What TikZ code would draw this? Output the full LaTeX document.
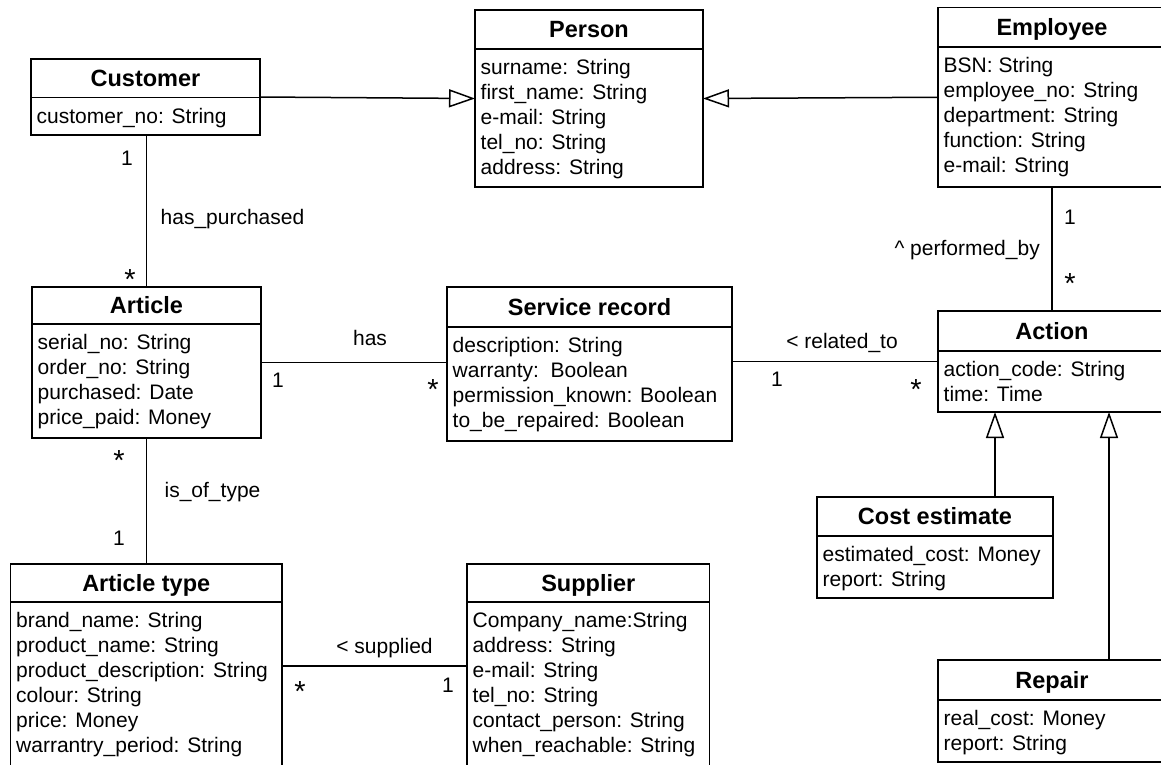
\documentclass[tikz,border=0pt]{standalone}
\usepackage{fontspec}
\setmainfont{Liberation Sans}
\usetikzlibrary{arrows.meta,calc}
\tikzset{
  umlline/.style={line width=1.5pt, draw=black},
  umlrect/.style={draw=black, line width=1.5pt, fill=white, inner sep=0pt, outer sep=0pt, rectangle},
  umltitle/.style={inner sep=0pt, font=\fontsize{23.5pt}{28pt}\selectfont\bfseries},
  umlattr/.style={inner sep=0pt, align=left, font=\fontsize{21pt}{25pt}\selectfont},
  lbl/.style={inner sep=0pt, font=\fontsize{21pt}{25pt}\selectfont},
  star/.style={inner sep=0pt, font=\fontsize{29pt}{30pt}\selectfont, anchor=base},
  assoc/.style={line width=1.5pt},
  gen/.style={line width=1.5pt, -{Triangle[open, length=26pt, width=18pt]}},
}
\newcommand\umlclass[8]{%
  \node[umlrect, minimum width=#4pt, minimum height=#5pt, anchor=north west] (#1) at (#2,#3) {};
  \coordinate (#1hl) at ($(#1.north west)+(0,#6)$);
  \coordinate (#1hr) at ($(#1.north east)+(0,#6)$);
  \draw[umlline] (#1hl) -- (#1hr);
  \node[umltitle, anchor=base] (#1t) at ($(#1.north)+(0,{#6/2+8.4})$) {#7};
  \node[umlattr, anchor=north west] (#1a) at ($(#1hl)+(5.5,9.5)$) {\rule{0pt}{16pt}#8};
}
\begin{document}
\begin{tikzpicture}[x=1pt, y=-1pt]
\useasboundingbox (0,0) rectangle (1161,764);
\clip (0,0) rectangle (1161,764);
\fill[white] (0,0) rectangle (1161,764);

\umlclass{cust}{31}{59}{229}{76}{38.5}{Customer}{customer\_no: String}
\umlclass{person}{475}{10}{228}{177}{39}{Person}{surname: String\\first\_name: String\\e-mail: String\\tel\_no: String\\address: String}
\umlclass{emp}{938}{7.5}{228}{179.5}{39.5}{Employee}{BSN: String\\employee\_no: String\\department: String\\function: String\\e-mail: String}
\umlclass{article}{32}{287}{229}{151}{37}{Article}{serial\_no: String\\order\_no: String\\purchased: Date\\price\_paid: Money}
\umlclass{service}{447}{287}{285}{154}{40}{Service record}{description: String\\warranty:\ \ Boolean\\permission\_known: Boolean\\to\_be\_repaired: Boolean}
\umlclass{action}{938}{311}{228}{101}{40}{Action}{action\_code: String\\time: Time}
\umlclass{cost}{817}{497}{236}{101}{39}{Cost estimate}{estimated\_cost: Money\\report: String}
\umlclass{repair}{938}{660}{228}{102}{40}{Repair}{real\_cost: Money\\report: String}
\umlclass{atype}{10.5}{564}{271.5}{204}{38}{Article type}{brand\_name: String\\product\_name: String\\product\_description: String\\colour: String\\price: Money\\warrantry\_period: String}
\umlclass{supplier}{467}{564}{242.5}{204}{38}{Supplier}{Company\_name:String\\address: String\\e-mail: String\\tel\_no: String\\contact\_person: String\\when\_reachable: String}

% generalizations
\draw[gen] (cust.east) -- (person.west);
\draw[gen] (emp.west) -- (person.east);
\coordinate (ceTop) at ($(action.south west)!0.25!(action.south east)$);
\draw[gen] (ceTop |- cost.north) -- (ceTop);
\coordinate (rpTop) at ($(action.south west)!0.75!(action.south east)$);
\draw[gen] (rpTop |- repair.north) -- (rpTop);

% associations
\draw[assoc] (article.north |- cust.south) -- (article.north);
\draw[assoc] (article.south) -- (article.south |- atype.north);
\draw[assoc] (article.east) -- (article.east -| service.west);
\draw[assoc] (action.west -| service.east) -- (action.west);
\draw[assoc] (emp.south) -- (action.north);
\draw[assoc] (atype.east) -- (atype.east -| supplier.west);

% labels
\node[lbl, anchor=base] (m1) at (127,165.5) {1};
\node[star] (m2) at (130,289) {*};
\node[lbl, anchor=base] (l1) at (232.5,224.5) {has\_purchased};
\node[star] (m3) at (119,470) {*};
\node[lbl, anchor=base] (l2) at (212.5,497.5) {is\_of\_type};
\node[lbl, anchor=base] (m4) at (119,545.5) {1};
\node[lbl, anchor=base] (l3) at (370,345.5) {has};
\node[lbl, anchor=base] (m5) at (278,387.5) {1};
\node[star] (m6) at (433,399) {*};
\node[lbl, anchor=base] (l4) at (842,348.5) {< related\_to};
\node[lbl, anchor=base] (m7) at (777,386.5) {1};
\node[star] (m8) at (916,399.5) {*};
\node[lbl, anchor=base] (m9) at (1070,224.5) {1};
\node[star] (m10) at (1070,293.5) {*};
\node[lbl, anchor=base east] (l5) at (1040,255.5) {\^{} performed\_by};
\node[lbl, anchor=base] (l6) at (384.5,653.5) {< supplied};
\node[star] (m11) at (300,701.5) {*};
\node[lbl, anchor=base] (m12) at (448,692.5) {1};
\end{tikzpicture}
\end{document}
